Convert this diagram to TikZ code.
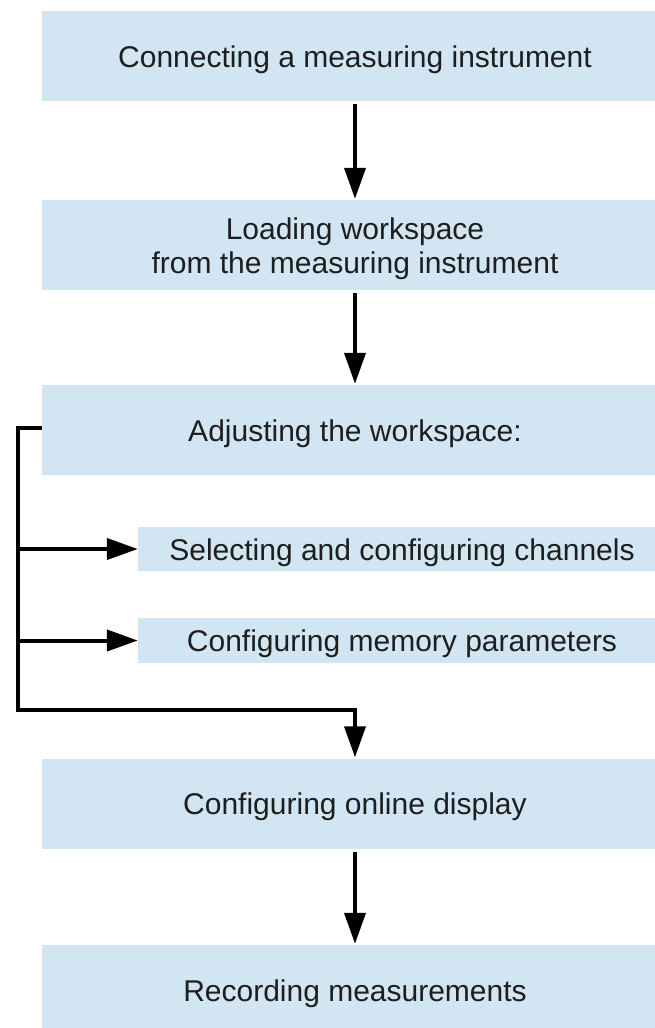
\documentclass[tikz,border=0pt]{standalone}
\usepackage{fontspec}
\setmainfont{Liberation Sans}
\usetikzlibrary{arrows.meta}
\definecolor{boxblue}{RGB}{209,229,243}
\definecolor{inkgray}{RGB}{30,30,30}

\begin{document}
\begin{tikzpicture}[x=1pt, y=-1pt,
  stage/.style={fill=boxblue, inner sep=0pt, minimum width=626pt, minimum height=90pt,
    align=center, text=inkgray, text height=22pt, text depth=0pt,
    font=\fontsize{30}{34}\selectfont},
  substage/.style={stage, minimum width=528pt},
  flow/.style={line width=4pt, -{Triangle[length=31pt,width=21pt]}, shorten >=1pt}]
\useasboundingbox (0,0) rectangle (655,1028);

\node[stage] (connect) at (355,56) {Connecting a measuring instrument};
\node[stage, text height=56pt] (load) at (355,245) {Loading workspace\\from the measuring instrument};
\node[stage] (adjust) at (355,430) {Adjusting the workspace:};
\node[substage, minimum height=44pt] (channels) at (402,549) {Selecting and configuring channels};
\node[substage, minimum height=45pt] (memory) at (402,640.5) {Configuring memory parameters};
\node[stage] (online) at (355,803.5) {Configuring online display};
\node[stage] (record) at (355,990) {Recording measurements};

\draw[flow, shorten <=3pt] (connect) -- (load);
\draw[flow, shorten <=3pt] (load) -- (adjust);
\draw[flow, shorten <=3pt] (online) -- (record);

% bracket from the workspace step
\coordinate (corner) at (18,710);
\draw[flow] ([yshift=2pt]adjust.west) -| (corner) -| (online.north);
\draw[flow, shorten >=0pt] (corner |- channels.west) -- (channels.west);
\draw[flow, shorten >=0pt] (corner |- memory.west) -- (memory.west);
\end{tikzpicture}
\end{document}
